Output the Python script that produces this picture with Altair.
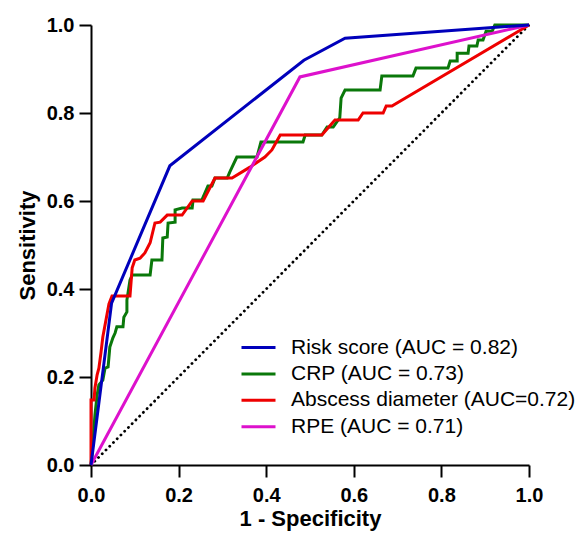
import altair as alt
import pandas as pd

series_names = ["Risk score (AUC = 0.82)", "CRP (AUC = 0.73)",
                "Abscess diameter (AUC=0.72)", "RPE (AUC = 0.71)"]
series_colors = ["#0000bb", "#0a780a", "#ee0000", "#dd11cc"]

risk_x = [0, 0.047, 0.18, 0.486, 0.58, 1]
risk_y = [0, 0.368, 0.68, 0.92, 0.97, 1]

crp_x = [0, 0.005, 0.009, 0.014, 0.018, 0.027, 0.032, 0.039, 0.043, 0.050, 0.055,
         0.059, 0.073, 0.075, 0.082, 0.082, 0.089, 0.094, 0.135, 0.139, 0.162,
         0.164, 0.174, 0.176, 0.192, 0.192, 0.208, 0.231, 0.233, 0.253, 0.260,
         0.267, 0.276, 0.283, 0.311, 0.317, 0.333, 0.379, 0.388, 0.484, 0.489,
         0.527, 0.539, 0.553, 0.568, 0.571, 0.580, 0.660, 0.664, 0.735, 0.742,
         0.815, 0.820, 0.836, 0.836, 0.861, 0.863, 0.881, 0.884, 0.895, 0.902,
         0.916, 0.922, 1]
crp_y = [0, 0.057, 0.114, 0.159, 0.182, 0.193, 0.220, 0.223, 0.268, 0.289, 0.300,
         0.314, 0.314, 0.336, 0.348, 0.375, 0.420, 0.432, 0.432, 0.466, 0.466,
         0.516, 0.518, 0.550, 0.552, 0.580, 0.584, 0.584, 0.602, 0.602, 0.618,
         0.634, 0.634, 0.652, 0.652, 0.666, 0.700, 0.700, 0.734, 0.734, 0.750,
         0.750, 0.768, 0.768, 0.789, 0.834, 0.852, 0.852, 0.884, 0.884, 0.902,
         0.902, 0.918, 0.918, 0.936, 0.936, 0.952, 0.952, 0.966, 0.966, 0.986,
         0.986, 1.0, 1]

abscess_x = [0, 0, 0.007, 0.009, 0.014, 0.018, 0.023, 0.027, 0.037, 0.041, 0.048,
             0.089, 0.094, 0.100, 0.112, 0.123, 0.135, 0.146, 0.158, 0.174, 0.208,
             0.231, 0.256, 0.283, 0.322, 0.363, 0.397, 0.413, 0.432, 0.527, 0.557,
             0.610, 0.621, 0.667, 0.674, 0.687, 1]
abscess_y = [0, 0.148, 0.148, 0.175, 0.205, 0.220, 0.257, 0.291, 0.345, 0.366, 0.384,
             0.384, 0.448, 0.466, 0.470, 0.482, 0.505, 0.550, 0.552, 0.568, 0.568,
             0.600, 0.600, 0.652, 0.652, 0.677, 0.700, 0.716, 0.750, 0.750, 0.784,
             0.784, 0.800, 0.800, 0.816, 0.816, 1]

rpe_x = [0, 0.477, 1]
rpe_y = [0, 0.882, 1]

ref_x = [0, 1]
ref_y = [0, 1]

tick_values = [0.0, 0.2, 0.4, 0.6, 0.8, 1.0]


def frame(name, xs, ys):
    return pd.DataFrame({"fpr": xs, "tpr": ys, "series": name,
                         "idx": list(range(len(xs)))})


curves = {
    series_names[0]: frame(series_names[0], risk_x, risk_y),
    series_names[1]: frame(series_names[1], crp_x, crp_y),
    series_names[2]: frame(series_names[2], abscess_x, abscess_y),
    series_names[3]: frame(series_names[3], rpe_x, rpe_y),
}
ref_df = pd.DataFrame({"fpr": ref_x, "tpr": ref_y})

x_enc = alt.X("fpr:Q", scale=alt.Scale(domain=[0, 1], nice=False),
              axis=alt.Axis(values=tick_values, format=".1f", title="1 - Specificity",
                            labelPadding=8, titlePadding=3, labelFlush=False))
y_enc = alt.Y("tpr:Q", scale=alt.Scale(domain=[0, 1], nice=False),
              axis=alt.Axis(values=tick_values, format=".1f", title="Sensitivity",
                            labelPadding=5, titlePadding=7, labelFlush=False))
color_enc = alt.Color(
    "series:N",
    scale=alt.Scale(domain=series_names, range=series_colors),
    legend=alt.Legend(
        title=None, orient="none", legendX=157, legendY=312,
        symbolType="M-2,0H2", symbolSize=289, symbolStrokeWidth=3,
        labelFont="Liberation Sans", labelFontSize=21, labelColor="black",
        labelOffset=22, rowPadding=4.4, padding=0, labelLimit=400,
    ),
)

ref = alt.Chart(ref_df).mark_line(
    color="black", strokeWidth=2.8, strokeDash=[0.1, 5.2], strokeCap="round"
).encode(x=x_enc, y=y_enc)

layers = [ref]
for name in [series_names[1], series_names[2], series_names[3], series_names[0]]:
    layers.append(
        alt.Chart(curves[name]).mark_line(strokeWidth=3).encode(
            x=x_enc, y=y_enc, color=color_enc, order="idx:Q"
        )
    )

chart = alt.layer(*layers).properties(
    width=438, height=440,
    autosize=alt.AutoSizeParams(type="none"),
    padding={"left": 83, "top": 17, "right": 48, "bottom": 67},
).configure_view(stroke=None).configure_axis(
    grid=False, domainColor="black", domainWidth=2, tickColor="black", tickWidth=2,
    tickSize=12, labelFont="Liberation Sans", labelFontSize=20, labelFontWeight="bold",
    labelColor="black", titleFont="Liberation Sans", titleFontSize=22,
    titleFontWeight="bold", titleColor="black",
)

chart.save("out.html", embed_options={"renderer": "svg", "actions": False})
